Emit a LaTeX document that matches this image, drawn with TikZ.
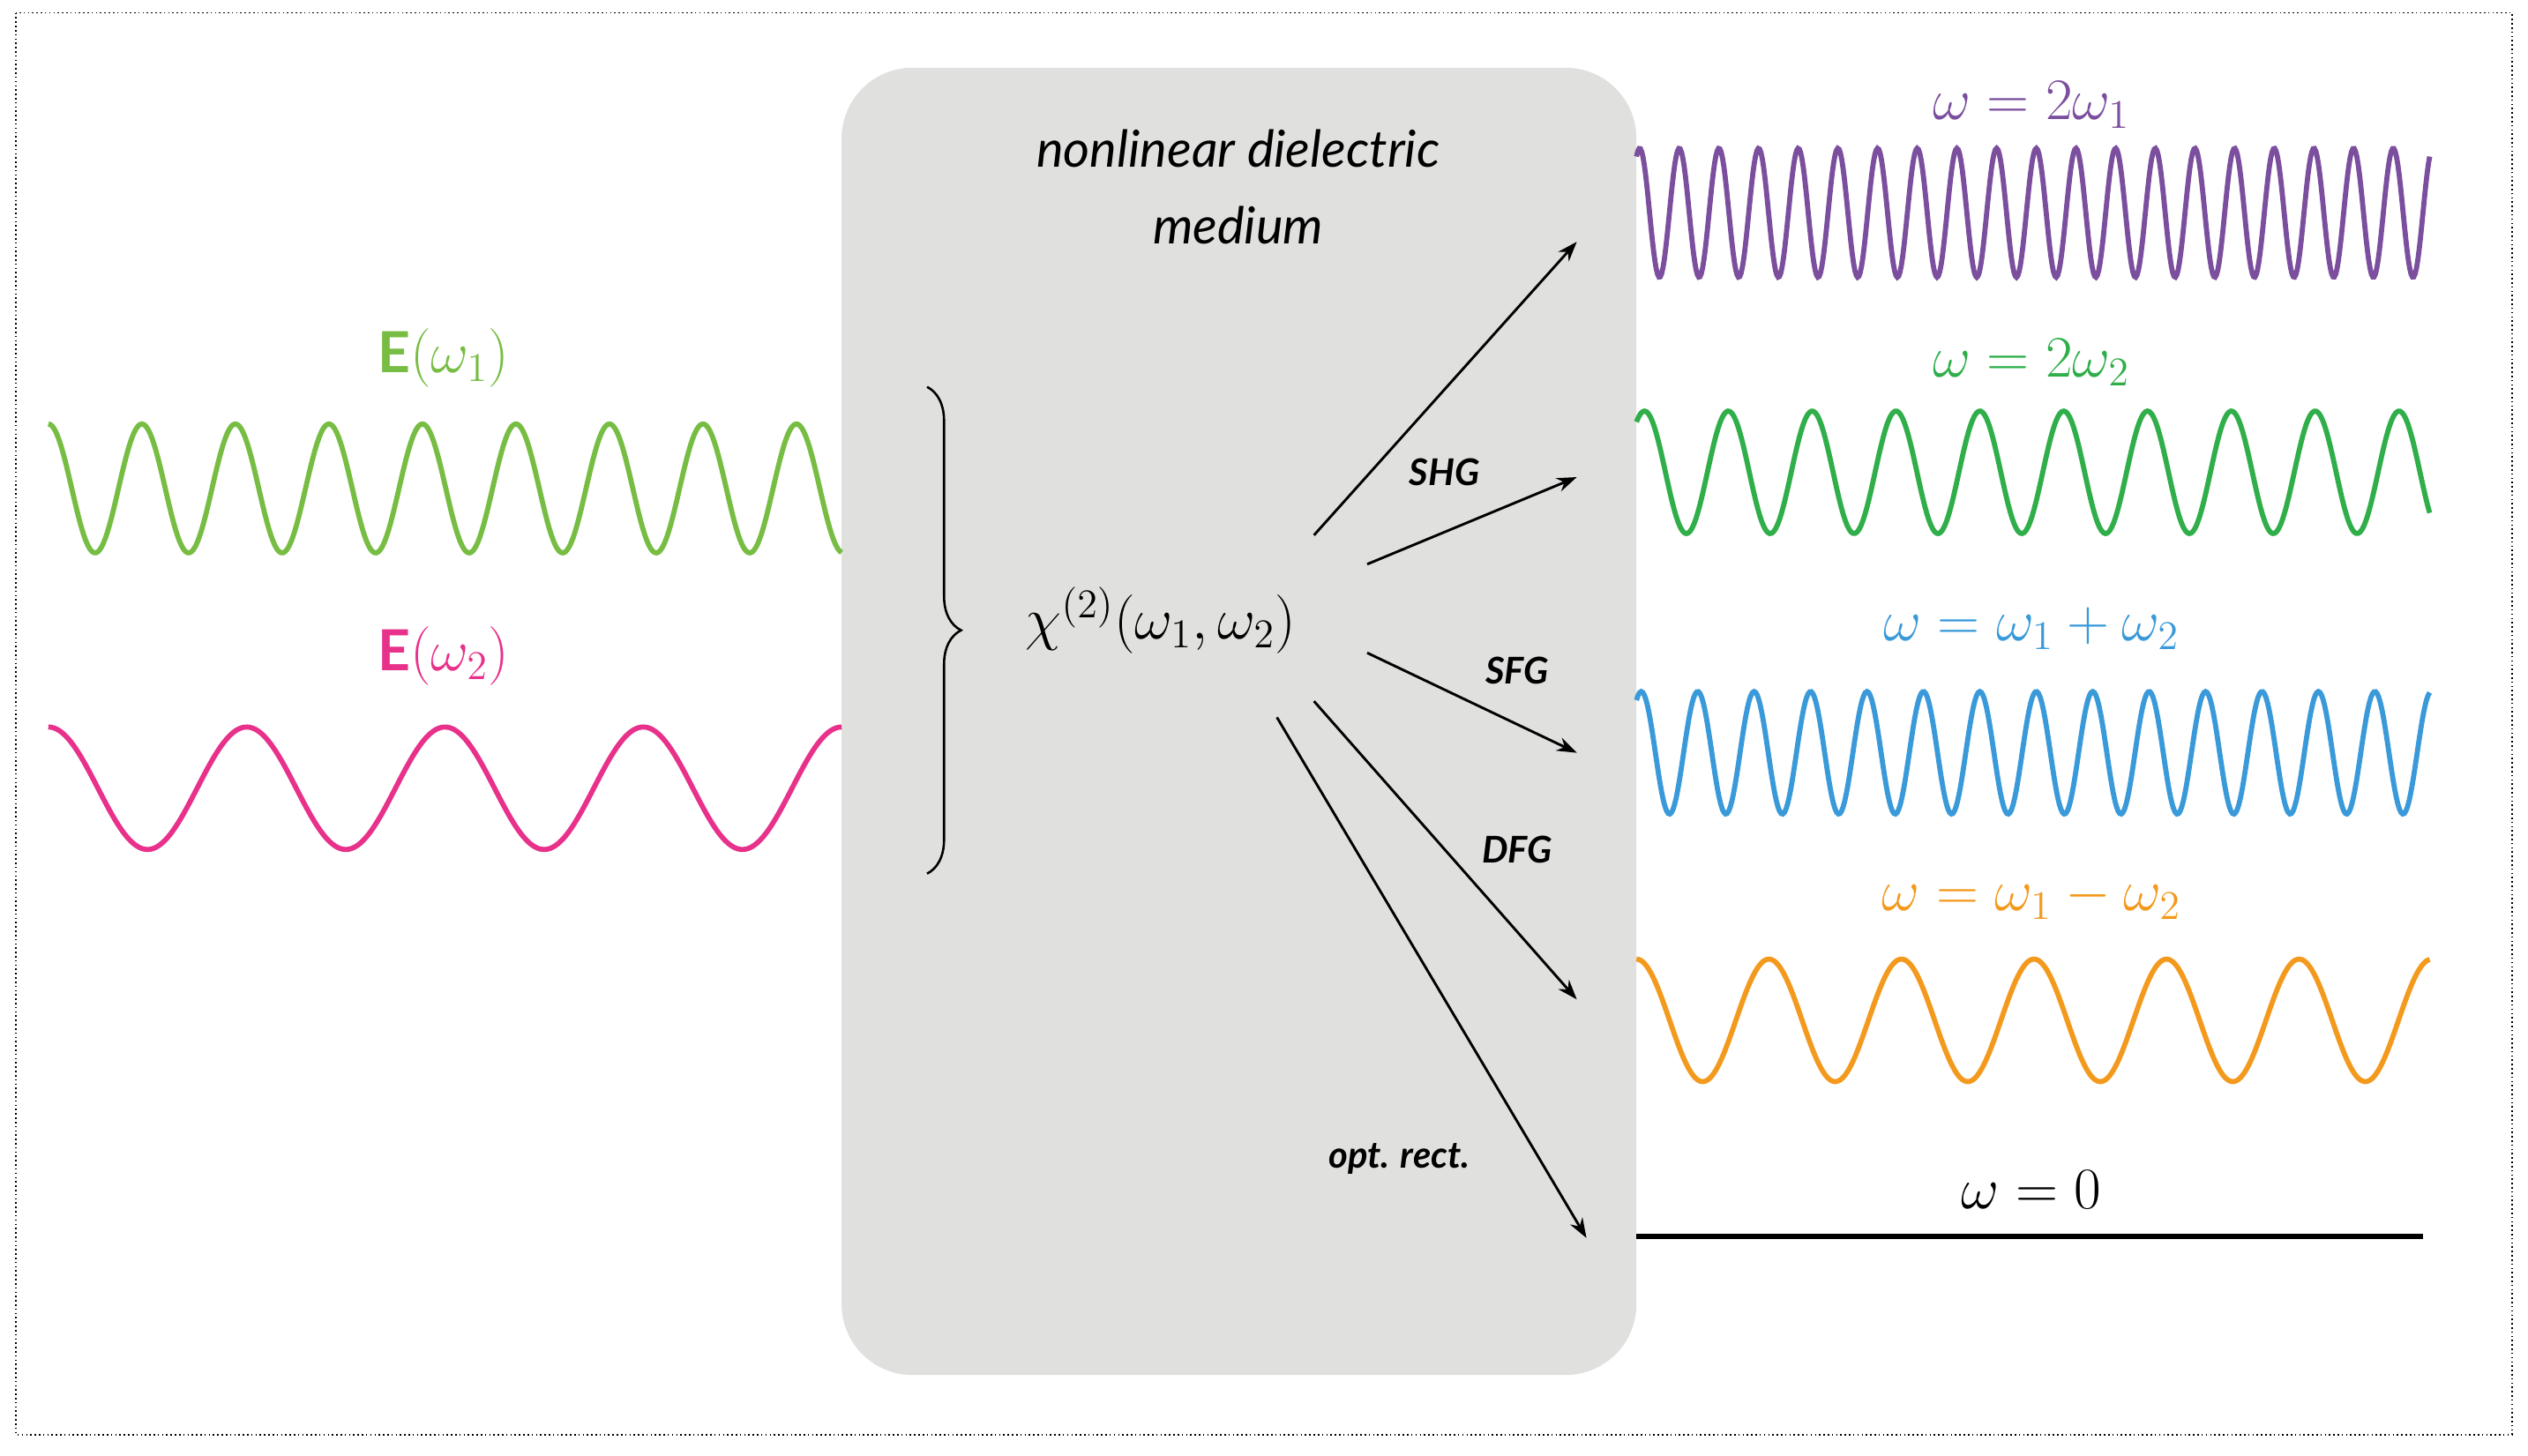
\documentclass[tikz,border=0pt]{standalone}
\usepackage{fontspec}
\newfontfamily\lato{Lato}
\usetikzlibrary{decorations.pathreplacing,arrows.meta}
\definecolor{cg}{HTML}{77BD43}
\definecolor{cp}{HTML}{E8318A}
\definecolor{cv}{HTML}{7B4F9E}
\definecolor{cg2}{HTML}{2FAE4A}
\definecolor{cb}{HTML}{3A9AD9}
\definecolor{co}{HTML}{F39A1E}
\definecolor{box}{HTML}{E0E1DF}
\begin{document}
\begin{tikzpicture}[x=0.02cm,y=-0.02cm,
 wave/.style={line width=1.8pt},
 lab/.style={font=\fontsize{20}{24}\selectfont},
 proc/.style={font=\lato\bfseries\itshape\fontsize{13}{15}\selectfont},
 arr/.style={-{Stealth[length=7pt,width=5pt]},line width=0.9pt}]
\useasboundingbox (0,0) rectangle (1568,903);
\draw[densely dotted,line width=0.5pt] (10,8) rectangle (1558,890);
\fill[box,rounded corners=25] (522,42) rectangle (1015,853);
% input waves
\draw[wave,cg] plot[domain=30:522,samples=400] (\x,{303-40*cos((\x-30)/58*360)});
\draw[wave,cp] plot[domain=30:522,samples=300] (\x,{489-38*cos((\x-30)/123*360)});
% output waves
\draw[wave,cv] plot[domain=1015:1507,samples=600] (\x,{132-40*cos((\x-1017)/24.6*360)});
\draw[wave,cg2] plot[domain=1015:1507,samples=400] (\x,{293-38*cos((\x-1020)/52*360)});
\draw[wave,cb] plot[domain=1015:1507,samples=500] (\x,{467-38*cos((\x-1018)/35*360)});
\draw[wave,co] plot[domain=1015:1507,samples=400] (\x,{633-38*cos((\x-1015)/82.2*360)});
\draw[line width=1.8pt] (1015,767) -- (1503,767);
% labels
\node[lab,cv] (l1) at (1260,65) {$\omega = 2\omega_1$};
\node[lab,cg2] (l2) at (1260,225) {$\omega = 2\omega_2$};
\node[lab,cb] (l3) at (1260,390) {$\omega = \omega_1 + \omega_2$};
\node[lab,co] (l4) at (1260,557) {$\omega = \omega_1 - \omega_2$};
\node[lab] (l5) at (1260,738) {$\omega = 0$};
\node[lab,cg] (e1) at (275,222) {{\lato\bfseries E}$(\omega_1)$};
\node[lab,cp] (e2) at (275,407) {{\lato\bfseries E}$(\omega_2)$};
\node[font=\lato\itshape\fontsize{18}{27}\selectfont,align=center] (med) at (768,116) {nonlinear dielectric\\medium};
\draw[decorate,decoration={brace,amplitude=12pt},line width=0.8pt] (575,240) -- (575,542);
\node[lab] (chi) at (720,385) {$\chi^{(2)}(\omega_1,\omega_2)$};
% arrows
\coordinate (a1s) at (815,332); \coordinate (a1e) at (978,150);
\coordinate (a2s) at (848,350); \coordinate (a2e) at (978,296);
\coordinate (a3s) at (848,405); \coordinate (a3e) at (978,467);
\coordinate (a4s) at (815,435); \coordinate (a4e) at (978,620);
\coordinate (a5s) at (792,445); \coordinate (a5e) at (984,768);
\draw[arr] (a1s) -- (a1e);
\draw[arr] (a2s) -- (a2e);
\draw[arr] (a3s) -- (a3e);
\draw[arr] (a4s) -- (a4e);
\draw[arr] (a5s) -- (a5e);
\node[proc] (p1) at (896,293) {SHG};
\node[proc] (p2) at (941,416) {SFG};
\node[proc] (p3) at (941,527) {DFG};
\node[proc] (p4) at (868,719) {opt. rect.};
\end{tikzpicture}
\end{document}
